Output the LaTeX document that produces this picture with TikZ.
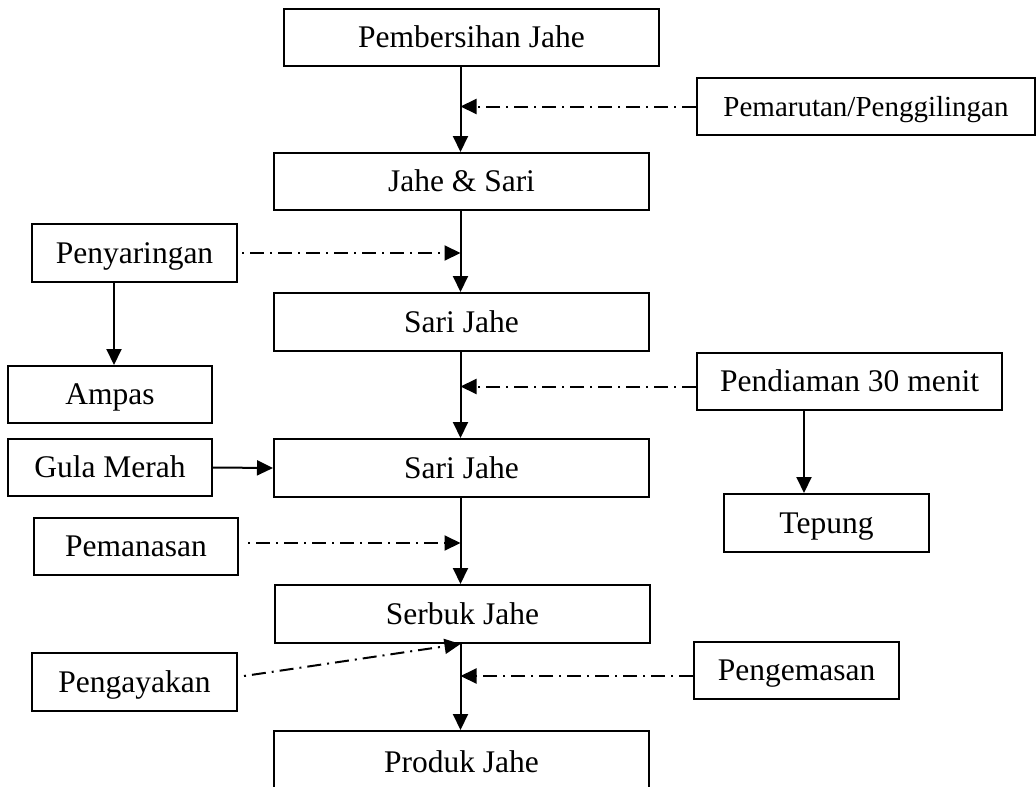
\documentclass[tikz,border=0pt]{standalone}
\usepackage{fontspec}
\setmainfont{Liberation Serif}
\usetikzlibrary{arrows.meta,calc}
\begin{document}
\begin{tikzpicture}[x=1pt,y=-1pt,
  box/.style={draw,line width=2pt,inner sep=0pt,text height=20.8pt,text depth=0pt,
    font=\fontsize{31.5pt}{36pt}\selectfont},
  tip/.style={-{Triangle[length=16pt,width=15pt]}},
  flow/.style={line width=2pt,tip},
  aux/.style={line width=2pt,dash pattern=on 14pt off 6pt on 2pt off 6pt,tip},
  auxL/.style={line width=2pt,dash pattern=on 2pt off 6pt on 14pt off 6pt,tip},
]
\useasboundingbox (0,0) rectangle (1036,787);
% boxes
\node[box,minimum width=375pt,minimum height=57pt] (pemb) at (471.5,37.5) {Pembersihan Jahe};
\node[box,minimum width=338pt,minimum height=57pt,text height=19.2pt,font=\fontsize{29pt}{34pt}\selectfont] (pema) at (866,106.5) {Pemarutan/Penggilingan};
\node[box,minimum width=375pt,minimum height=57pt] (jsari) at (461.5,181.5) {Jahe \& Sari};
\node[box,minimum width=205pt,minimum height=58pt] (peny) at (134.5,253) {Penyaringan};
\node[box,minimum width=375pt,minimum height=58pt] (sari1) at (461.5,322) {Sari Jahe};
\node[box,minimum width=204pt,minimum height=57pt] (ampas) at (110,394.5) {Ampas};
\node[box,minimum width=305pt,minimum height=57pt] (pend) at (849.5,381.5) {Pendiaman 30 menit};
\node[box,minimum width=204pt,minimum height=57pt] (gula) at (110,467.5) {Gula Merah};
\node[box,minimum width=375pt,minimum height=58pt] (sari2) at (461.5,468) {Sari Jahe};
\node[box,minimum width=205pt,minimum height=58pt] (tepung) at (826.5,523) {Tepung};
\node[box,minimum width=204pt,minimum height=57pt] (peman) at (136,546.5) {Pemanasan};
\node[box,minimum width=375pt,minimum height=58pt] (serbuk) at (462.5,614) {Serbuk Jahe};
\node[box,minimum width=205pt,minimum height=58pt] (penga) at (134.5,682) {Pengayakan};
\node[box,minimum width=205pt,minimum height=57pt] (pengem) at (796.5,670.5) {Pengemasan};
\node[box,minimum width=375pt,minimum height=62pt] (produk) at (461.5,762) {Produk Jahe};
% helper coordinates
\coordinate (sp) at (460.5,0);
\coordinate (ax) at (114,0);
\coordinate (tx) at (804,0);
% connectors
\draw[flow] (pemb.south -| sp) -- (jsari.north -| sp);
\draw[aux] (pema.west) -- (pema.west -| sp);
\draw[flow] (jsari.south -| sp) -- (sari1.north -| sp);
\draw[auxL] ([xshift=4pt]peny.east) -- (peny.east -| sp);
\draw[flow] (peny.south -| ax) -- (ampas.north -| ax);
\draw[flow] (sari1.south -| sp) -- (sari2.north -| sp);
\draw[aux] ([yshift=-5pt]pend.west) -- ([yshift=-5pt]pend.west -| sp);
\draw[flow] (pend.south -| tx) -- (tepung.north -| tx);
\draw[flow] (gula.east) -- (sari2.west);
\draw[flow] (sari2.south -| sp) -- (serbuk.north -| sp);
\draw[auxL] ([xshift=9pt,yshift=3.5pt]peman.east) -- ([yshift=3.5pt]peman.east -| sp);
\draw[flow] (serbuk.south -| sp) -- (produk.north -| sp);
\draw[auxL] ([xshift=6pt,yshift=6pt]penga.east) -- (serbuk.south -| sp);
\draw[aux] ([yshift=-5.5pt]pengem.west) -- ([yshift=-5.5pt]pengem.west -| sp);
\end{tikzpicture}
\end{document}
